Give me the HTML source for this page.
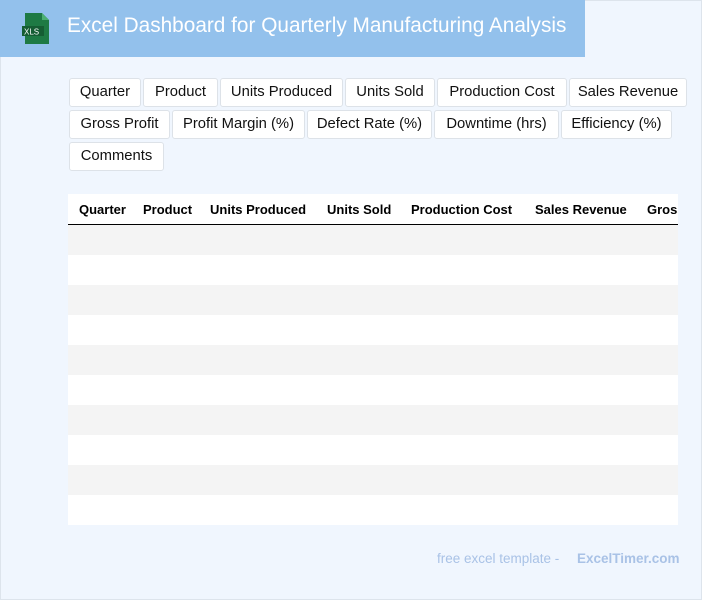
<!DOCTYPE html>
<html><head><meta charset="utf-8"><style>
*{margin:0;padding:0;box-sizing:border-box}
body{width:702px;height:600px;background:#f0f6fe;font-family:"Liberation Sans",sans-serif;position:relative;overflow:hidden;box-shadow:inset 0 0 0 1px #dde4ec}
.hdr{position:absolute;left:0;top:0;width:585px;height:57px;background:#93c1ec}
.title{position:absolute;left:67px;top:14px;color:#fff;font-size:20.8px}
.b{position:absolute;height:29px;background:#fff;border:1px solid #dde2e8;border-radius:3px;font-size:14.8px;color:#111;text-align:center;line-height:27px;white-space:nowrap}
.tbl{position:absolute;left:68px;top:194px;width:610px;height:331px;background:#fff;overflow:hidden}
.th{position:absolute;top:8px;font-weight:bold;font-size:13px;color:#000;white-space:nowrap}
.line{position:absolute;left:0;top:30px;width:610px;height:1px;background:#000}
.r{position:absolute;left:0;width:610px;height:30px;background:#f4f4f4}
.foot{position:absolute;top:551px;font-size:13.5px;color:#a9c2e6}
</style></head><body>
<div class="hdr">
<svg style="position:absolute;left:22px;top:13px" width="28" height="31" viewBox="0 0 28 31"><path d="M3 0h17l7 7v24H3z" fill="#1e7a44"/><path d="M20 0v7h7z" fill="#4caf72"/><rect x="0" y="13" width="22" height="10" fill="#155d33"/><text x="2" y="21.5" font-size="8" fill="#fff" font-family="Liberation Sans">XLS</text></svg>
<div class="title">Excel Dashboard for Quarterly Manufacturing Analysis</div>
</div>
<div class="b" style="left:69px;top:78px;width:72px">Quarter</div>
<div class="b" style="left:143px;top:78px;width:75px">Product</div>
<div class="b" style="left:220px;top:78px;width:123px">Units Produced</div>
<div class="b" style="left:345px;top:78px;width:90px">Units Sold</div>
<div class="b" style="left:437px;top:78px;width:130px">Production Cost</div>
<div class="b" style="left:569px;top:78px;width:118px">Sales Revenue</div>
<div class="b" style="left:69px;top:110px;width:101px">Gross Profit</div>
<div class="b" style="left:172px;top:110px;width:133px">Profit Margin (%)</div>
<div class="b" style="left:307px;top:110px;width:125px">Defect Rate (%)</div>
<div class="b" style="left:434px;top:110px;width:125px">Downtime (hrs)</div>
<div class="b" style="left:561px;top:110px;width:111px">Efficiency (%)</div>
<div class="b" style="left:69px;top:142px;width:95px">Comments</div>
<div class="tbl">
<div class="th" style="left:11px">Quarter</div>
<div class="th" style="left:75px">Product</div>
<div class="th" style="left:142px">Units Produced</div>
<div class="th" style="left:259px">Units Sold</div>
<div class="th" style="left:343px">Production Cost</div>
<div class="th" style="left:467px">Sales Revenue</div>
<div class="th" style="left:579px">Gross Profit</div>
<div class="line"></div>
<div class="r" style="top:31px"></div>
<div class="r" style="top:91px"></div>
<div class="r" style="top:151px"></div>
<div class="r" style="top:211px"></div>
<div class="r" style="top:271px"></div>
</div>
<div class="foot" style="left:437px">free excel template -</div>
<div class="foot" style="left:577px;font-weight:bold">ExcelTimer.com</div>
</body></html>
